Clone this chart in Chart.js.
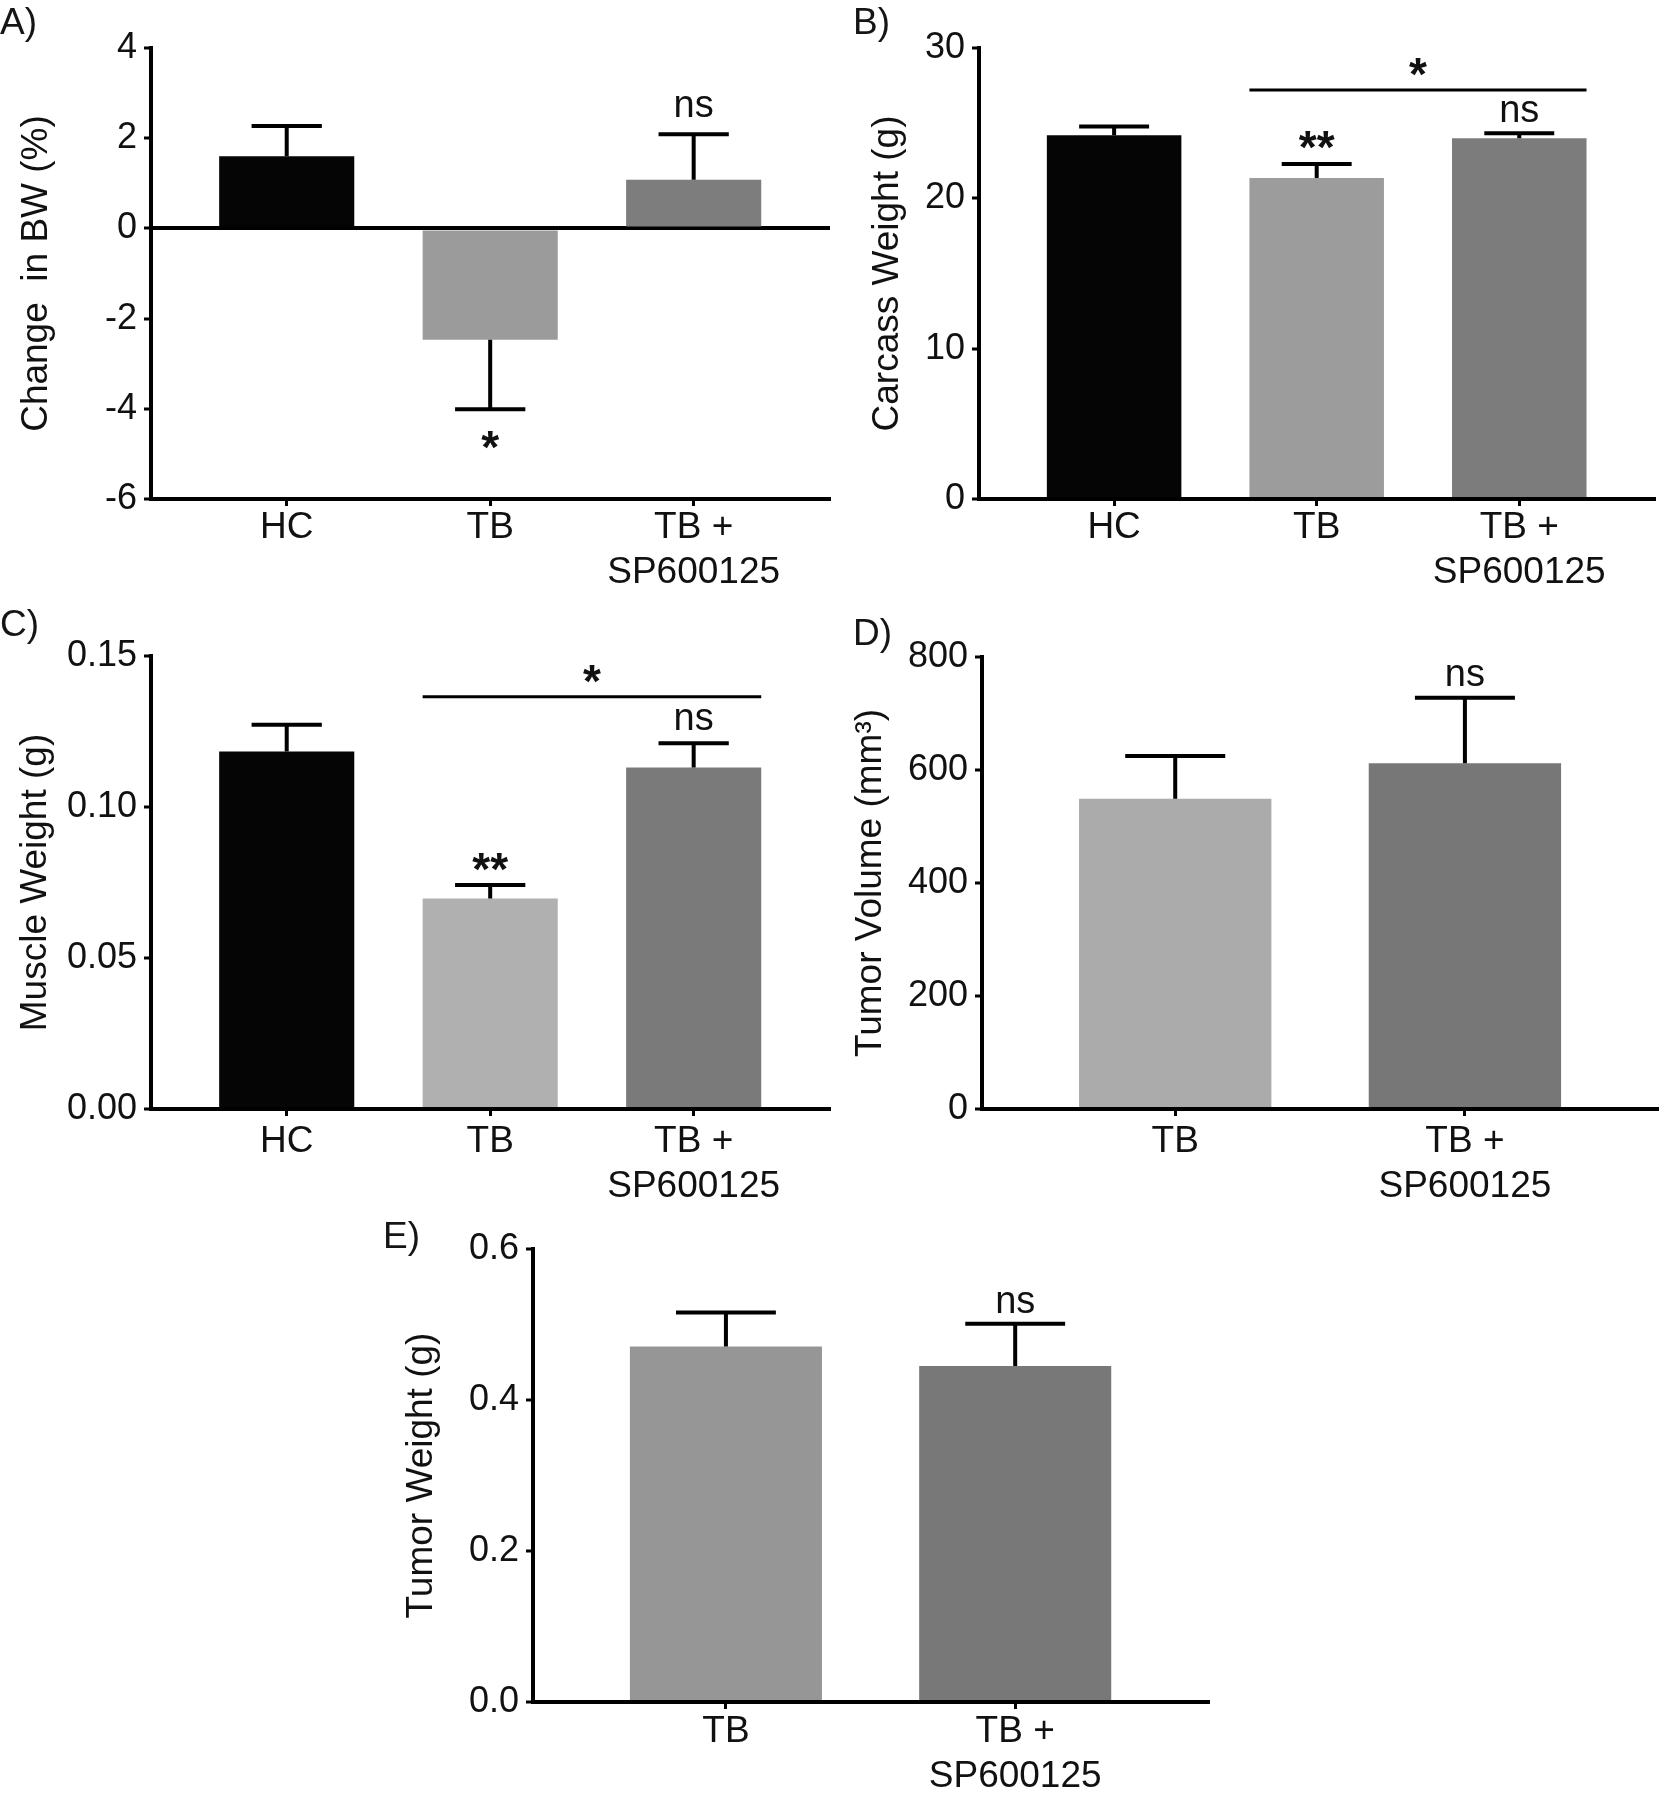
<!DOCTYPE html>
<html>
<head>
<meta charset="utf-8">
<script src="https://cdn.jsdelivr.net/npm/chart.js@4.4.0/dist/chart.umd.min.js"></script>
<style>
html,body{margin:0;padding:0;background:#fff;}
#fig{position:relative;width:1659px;height:1800px;background:#fff;overflow:hidden;font-family:"Liberation Sans",Arial,sans-serif;}
.panel{position:absolute;}
.panel canvas{display:block;}
.tag{position:absolute;font-size:37px;line-height:37px;color:#151515;white-space:nowrap;}
</style>
</head>
<body>
<div id="fig">
  <div class="panel" style="left:0px;top:0px;"><canvas id="cA" width="840" height="600"></canvas></div>
  <div class="panel" style="left:840px;top:0px;"><canvas id="cB" width="819" height="600"></canvas></div>
  <div class="panel" style="left:0px;top:600px;"><canvas id="cC" width="840" height="600"></canvas></div>
  <div class="panel" style="left:840px;top:600px;"><canvas id="cD" width="819" height="600"></canvas></div>
  <div class="panel" style="left:380px;top:1200px;"><canvas id="cE" width="860" height="600"></canvas></div>
  <div class="tag" style="left:0px;top:3px;">A)</div>
  <div class="tag" style="left:853px;top:3px;">B)</div>
  <div class="tag" style="left:0px;top:605px;">C)</div>
  <div class="tag" style="left:853px;top:614px;">D)</div>
  <div class="tag" style="left:383px;top:1217px;">E)</div>
</div>
<script>
// ---------- data ----------
const groups3 = ['HC', 'TB', 'TB +\nSP600125'];
const groups2 = ['TB', 'TB +\nSP600125'];

// A) change in body weight (%)
const bwChange = [1.6, -2.47, 1.08];
const bwChangeSem = [0.67, 1.54, 1.01];
const bwChangeSig = ['', '*', 'ns'];
const bwTicks = [-6, -4, -2, 0, 2, 4];

// B) carcass weight (g)
const carcassWeight = [24.2, 21.35, 24.0];
const carcassSem = [0.58, 0.93, 0.33];
const carcassSig = ['', '**', 'ns'];
const carcassBracket = [1, 2, 27.2, '*'];
const carcassTicks = [0, 10, 20, 30];

// C) muscle weight (g)
const muscleWeight = [0.1184, 0.0697, 0.1131];
const muscleSem = [0.0088, 0.0045, 0.0080];
const muscleSig = ['', '**', 'ns'];
const muscleBracket = [1, 2, 0.1365, '*'];
const muscleTicks = [0, 0.05, 0.10, 0.15];

// D) tumor volume (mm3)
const tumorVolume = [549, 612];
const tumorVolumeSem = [76, 116];
const tumorVolumeSig = ['', 'ns'];
const tumorVolumeTicks = [0, 200, 400, 600, 800];

// E) tumor weight (g)
const tumorWeight = [0.471, 0.445];
const tumorWeightSem = [0.045, 0.056];
const tumorWeightSig = ['', 'ns'];
const tumorWeightTicks = [0, 0.2, 0.4, 0.6];

// ---------- styling ----------
const FONT = '"Liberation Sans", Arial, sans-serif';
const INK = '#111111';
Chart.defaults.font.family = FONT;

const annotPlugin = {
  id: 'annot',
  afterDatasetsDraw(chart, args, o) {
    const ctx = chart.ctx;
    const ys = chart.scales.y;
    const meta = chart.getDatasetMeta(0);
    const ds = chart.data.datasets[0];
    const starFont = 'bold ' + o.starSize + 'px ' + FONT;
    ctx.save();
    ctx.strokeStyle = '#000';
    ctx.lineCap = 'butt';
    meta.data.forEach((bar, i) => {
      const v = ds.data[i].y;
      const e = o.sem[i];
      const dir = v < 0 ? -1 : 1;
      const y0 = ys.getPixelForValue(v);
      const y1 = ys.getPixelForValue(v + dir * e);
      const half = bar.width * o.cap / 2;
      ctx.lineWidth = 4;
      ctx.beginPath();
      ctx.moveTo(bar.x, y0); ctx.lineTo(bar.x, y1);
      ctx.moveTo(bar.x - half, y1); ctx.lineTo(bar.x + half, y1);
      ctx.stroke();
      const s = o.sig[i];
      if (s) {
        const star = s.charAt(0) === '*';
        ctx.font = star ? starFont : (o.nsSize + 'px ' + FONT);
        ctx.fillStyle = INK;
        ctx.textAlign = 'center';
        ctx.textBaseline = 'alphabetic';
        const m = ctx.measureText(s);
        const gap = star ? o.starGap : o.nsGap;
        const ty = dir > 0 ? y1 - gap - m.actualBoundingBoxDescent
                           : y1 + gap + m.actualBoundingBoxAscent;
        ctx.fillText(s, bar.x, ty);
      }
    });
    if (o.bracket) {
      const [a, b, val, label] = o.bracket;
      const ba = meta.data[a], bb = meta.data[b];
      const yb = ys.getPixelForValue(val);
      ctx.lineWidth = 3;
      ctx.beginPath();
      ctx.moveTo(ba.x - ba.width / 2, yb);
      ctx.lineTo(bb.x + bb.width / 2, yb);
      ctx.stroke();
      ctx.font = starFont;
      ctx.fillStyle = INK;
      ctx.textAlign = 'center';
      ctx.textBaseline = 'alphabetic';
      const m = ctx.measureText(label);
      ctx.fillText(label, (ba.x - ba.width / 2 + bb.x + bb.width / 2) / 2, yb - 14 - m.actualBoundingBoxDescent);
    }
    ctx.restore();
  }
};

function makePanel(id, cfg) {
  const cats = cfg.cats;
  const yt = cfg.yTicks;
  new Chart(document.getElementById(id), {
    type: 'bar',
    data: {
      datasets: [{
        data: cfg.values.map((v, i) => ({ x: i, y: v })),
        backgroundColor: cfg.colors,
        borderWidth: 0,
        barPercentage: 0.664,
        categoryPercentage: 1
      }]
    },
    options: {
      responsive: false,
      animation: false,
      events: [],
      layout: { padding: cfg.pad },
      plugins: {
        legend: { display: false },
        tooltip: { enabled: false },
        annot: {
          sem: cfg.sem, sig: cfg.sig, bracket: cfg.bracket || null,
          cap: 0.52, starSize: 46, nsSize: 38, starGap: cfg.starGap, nsGap: cfg.nsGap
        }
      },
      scales: {
        x: {
          type: 'linear',
          min: -0.667,
          max: cats.length - 1 + 0.67,
          offset: false,
          afterBuildTicks: s => { s.ticks = cats.map((c, i) => ({ value: i })); },
          afterFit: s => { s.height = cfg.xH; },
          ticks: {
            autoSkip: false, maxRotation: 0, minRotation: 0,
            color: INK, padding: cfg.xPad,
            font: { size: 37, lineHeight: 1.2 },
            callback: v => (cats[v] !== undefined ? cats[v].split('\n') : '')
          },
          grid: { offset: false, drawOnChartArea: false, drawTicks: true, tickLength: 7, tickColor: '#000', tickWidth: 3 },
          border: { display: true, color: '#000', width: 4 }
        },
        y: {
          type: 'linear',
          min: yt[0],
          max: yt[yt.length - 1],
          afterBuildTicks: s => { s.ticks = yt.map(v => ({ value: v })); },
          afterFit: s => { s.width = cfg.yW; },
          ticks: {
            color: INK, padding: 7,
            font: { size: 36 },
            callback: v => cfg.fmt(v)
          },
          title: {
            display: true, text: cfg.title, color: INK,
            font: { size: 37, lineHeight: 1.2 },
            padding: { top: cfg.titlePad, bottom: 0 }
          },
          grid: {
            offset: false,
            drawOnChartArea: !!cfg.zeroLine,
            color: c => (c.tick && c.tick.value === 0 ? '#000' : 'rgba(0,0,0,0)'),
            lineWidth: 4,
            drawTicks: true, tickLength: 7, tickColor: '#000', tickWidth: 3
          },
          border: { display: true, color: '#000', width: 4 }
        }
      }
    },
    plugins: [annotPlugin]
  });
}

makePanel('cA', {
  cats: groups3, values: bwChange, sem: bwChangeSem, sig: bwChangeSig, yTicks: bwTicks,
  colors: ['#050505', '#9b9b9b', '#7d7d7d'],
  title: 'Change  in BW (%)', titlePad: 15, yW: 151,
  pad: { left: 0, top: 48, right: 10, bottom: 1 }, xH: 100, xPad: 0,
  fmt: v => String(v), zeroLine: true, starGap: 22, nsGap: 17
});
makePanel('cB', {
  cats: groups3, values: carcassWeight, sem: carcassSem, sig: carcassSig, yTicks: carcassTicks,
  bracket: carcassBracket,
  colors: ['#050505', '#9c9c9c', '#7c7c7c'],
  title: 'Carcass Weight (g)', titlePad: 26, yW: 139,
  pad: { left: 0, top: 48, right: 4, bottom: 1 }, xH: 100, xPad: 0,
  fmt: v => String(v), starGap: 15, nsGap: 11
});
makePanel('cC', {
  cats: groups3, values: muscleWeight, sem: muscleSem, sig: muscleSig, yTicks: muscleTicks,
  bracket: muscleBracket,
  colors: ['#050505', '#b0b0b0', '#7a7a7a'],
  title: 'Muscle Weight (g)', titlePad: 14, yW: 151,
  pad: { left: 0, top: 56, right: 10, bottom: 1 }, xH: 90, xPad: 4,
  fmt: v => v.toFixed(2), starGap: 14, nsGap: 13
});
makePanel('cD', {
  cats: groups2, values: tumorVolume, sem: tumorVolumeSem, sig: tumorVolumeSig, yTicks: tumorVolumeTicks,
  colors: ['#ababab', '#777777'],
  title: 'Tumor Volume (mm\u00B3)', titlePad: 9, yW: 142,
  pad: { left: 0, top: 57, right: 0, bottom: 1 }, xH: 90, xPad: 4,
  fmt: v => String(v), starGap: 15, nsGap: 12
});
makePanel('cE', {
  cats: groups2, values: tumorWeight, sem: tumorWeightSem, sig: tumorWeightSig, yTicks: tumorWeightTicks,
  colors: ['#969696', '#787878'],
  title: 'Tumor Weight (g)', titlePad: 20, yW: 153,
  pad: { left: 0, top: 49, right: 31, bottom: 3 }, xH: 95, xPad: 1,
  fmt: v => v.toFixed(1), starGap: 15, nsGap: 11
});
</script>
</body>
</html>
